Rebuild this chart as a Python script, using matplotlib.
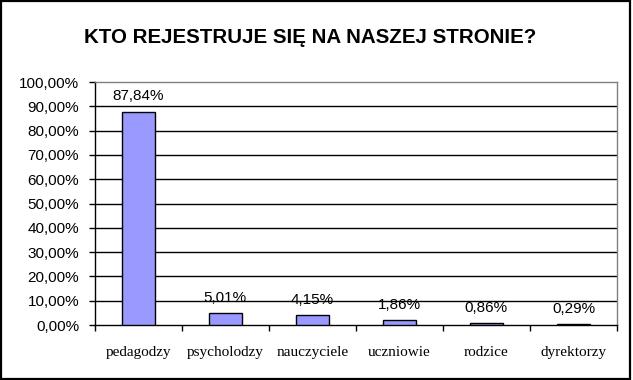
import matplotlib
matplotlib.use("Agg")
import matplotlib.pyplot as plt
from matplotlib.patches import Rectangle
import numpy as np

categories = ["pedagodzy", "psycholodzy", "nauczyciele", "uczniowie", "rodzice", "dyrektorzy"]
values = [87.84, 5.01, 4.15, 1.86, 0.86, 0.29]
title = "KTO REJESTRUJE SIĘ NA NASZEJ STRONIE?"
yticks = [0, 10, 20, 30, 40, 50, 60, 70, 80, 90, 100]

def pl(v):
    return f"{v:.2f}".replace(".", ",") + "%"

fig = plt.figure(figsize=(6.33, 3.80), dpi=100)
fig.patch.set_facecolor("white")
# outer border
fig.add_artist(Rectangle((0.0015, 0.003), 0.994, 0.994, transform=fig.transFigure,
                         fill=False, edgecolor="black", linewidth=1.6))

ax = fig.add_axes([0.1493, 0.1447, 0.8254, 0.6395])
x = np.arange(len(categories))
ax.bar(x, values, width=0.38, color="#9999FF", edgecolor="black", linewidth=1.0, zorder=3)

ax.set_xlim(-0.5, len(categories) - 0.5)
ax.set_ylim(0, 100)
ax.set_yticks(yticks)
ax.set_yticklabels([pl(v) for v in yticks], fontfamily="Liberation Sans", fontsize=11)
for v in yticks[1:-1]:
    ax.axhline(v, color="black", linewidth=1.0, zorder=1)

# category ticks at boundaries, labels at centers
ax.set_xticks(np.arange(len(categories) + 1) - 0.5)
ax.set_xticklabels([])
ax.set_xticks(x, minor=True)
ax.set_xticklabels(categories, minor=True, fontfamily="Liberation Serif", fontsize=11)
ax.tick_params(axis="x", which="major", length=4, width=1, color="black", direction="out")
ax.tick_params(axis="x", which="minor", length=0, pad=15)
ax.tick_params(axis="y", length=4, width=1, direction="out", pad=7)

for s in ["left", "bottom"]:
    ax.spines[s].set_color("black")
    ax.spines[s].set_linewidth(1.0)
for s in ["top", "right"]:
    ax.spines[s].set_color("#808080")
    ax.spines[s].set_linewidth(1.0)

for xi, v in zip(x, values):
    ax.annotate(pl(v), (xi, v), xytext=(0, 11), textcoords="offset points",
                ha="center", va="center", fontfamily="Liberation Sans", fontsize=11, zorder=4)

fig.text(310 / 633, 1 - 43 / 380, title, ha="center", va="baseline",
         fontfamily="Liberation Sans", fontweight="bold", fontsize=14.8)

fig.savefig("out.png", dpi=100, facecolor="white")
